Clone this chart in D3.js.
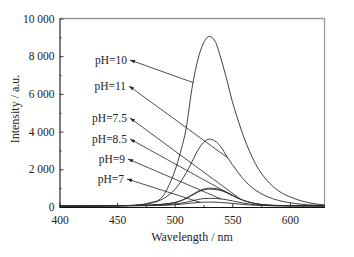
<!DOCTYPE html>
<html><head><meta charset="utf-8">
<script src="https://cdn.jsdelivr.net/npm/d3@7"></script>
<style>body{margin:0;background:#fff}svg{display:block}svg text{font-family:"Liberation Serif","Times New Roman",Times,"DejaVu Serif",serif !important;fill:#222}</style>
</head><body>
<script>
const wavelengths = d3.range(400, 631, 5);
const pH10 = [40,42,44,46,48,50,52,55,58,62,66,72,80,95,120,170,250,330,600,1150,1900,2900,4200,6300,7800,8700,9050,8800,7900,6800,5600,4600,3700,2950,2300,1800,1420,1100,860,680,540,420,320,245,185,140,110];
const pH11 = [38,40,42,44,46,48,50,52,55,58,62,68,76,90,115,150,210,300,440,640,920,1320,1820,2400,3000,3420,3600,3500,3200,2700,2250,1830,1450,1150,900,710,560,440,350,280,225,180,145,120,100,88,78];
const pH75 = [55,56,57,58,60,62,64,66,68,70,72,75,78,82,88,96,108,125,150,185,240,330,470,650,820,950,1000,980,910,790,630,470,345,255,185,140,110,92,82,76,72,70,68,66,65,64,63];
const pH85 = [52,53,54,55,57,59,61,63,65,67,69,72,75,79,85,93,105,122,147,182,235,320,450,620,785,905,950,935,870,760,610,460,340,250,180,135,105,88,78,72,68,66,64,63,62,61,60];
const pH9 = [48,49,50,51,52,54,56,58,60,62,64,66,68,71,75,80,87,96,110,130,160,200,255,325,395,445,460,455,430,385,325,260,205,160,125,100,85,75,68,64,61,59,58,57,56,55,55];
const pH7 = [45,46,47,48,49,50,52,54,56,58,60,62,64,66,69,72,76,82,90,102,120,145,175,210,240,256,260,255,240,218,190,160,132,110,92,80,72,66,62,59,57,56,55,54,53,52,52];

const seriesNames = ["pH=10","pH=11","pH=7.5","pH=8.5","pH=9","pH=7"];
const seriesValues = [pH10, pH11, pH75, pH85, pH9, pH7];
const arrowTargets = [516, 546, 557, 550, 540, 522];

const xTicks = [400, 450, 500, 550, 600];
const yTicks = [0, 2000, 4000, 6000, 8000, 10000];

const FONT = '"Liberation Serif","Times New Roman",Times,"DejaVu Serif",serif';
const W = 354, H = 257;
const svg = d3.select("body").append("svg").attr("width", W).attr("height", H);
const x = d3.scaleLinear().domain([400, 630]).range([59.5, 324.5]);
const y = d3.scaleLinear().domain([0, 10000]).range([207, 18.5]);

svg.append("path").attr("d", `M${x(400)},${y(10000)}H${x(630)}V${y(0)}`)
  .attr("fill","none").attr("stroke","#9a9a9a").attr("stroke-width",1.3);

const line = d3.line().x((d,i)=>x(wavelengths[i])).y(d=>y(d)).curve(d3.curveMonotoneX);
svg.append("g").selectAll("path").data(seriesValues).join("path")
  .attr("d", line).attr("fill","none").attr("stroke","#2a2a2a").attr("stroke-width",0.9);

const fmt = v => d3.format(",")(v).replace(/,/g, " ");
const gy = svg.append("g").attr("transform", `translate(${x(400)},0)`)
  .call(d3.axisLeft(y).tickValues(yTicks).tickFormat(fmt).tickSizeInner(-4).tickSizeOuter(0).tickPadding(5));
const gyMinor = svg.append("g").attr("transform", `translate(${x(400)},0)`)
  .call(d3.axisLeft(y).tickValues(d3.range(1000, 10000, 2000)).tickFormat("").tickSizeInner(-2).tickSizeOuter(0));
const gx = svg.append("g").attr("transform", `translate(0,${y(0)})`)
  .call(d3.axisBottom(x).tickValues(xTicks).tickFormat(d3.format("d")).tickSizeInner(-4).tickSizeOuter(0).tickPadding(9));
const gxMinor = svg.append("g").attr("transform", `translate(0,${y(0)})`)
  .call(d3.axisBottom(x).tickValues(d3.range(425, 630, 50)).tickFormat("").tickSizeInner(-2).tickSizeOuter(0));
[gy, gyMinor, gx, gxMinor].forEach(g => {
  g.attr("font-family", FONT).attr("font-size", 11.5);
  g.selectAll("path.domain").attr("stroke","#111").attr("stroke-width",1.1);
  g.selectAll("line").attr("stroke","#333");
  g.selectAll("text").attr("fill","#222");
});
gyMinor.select("path.domain").remove();
gxMinor.select("path.domain").remove();

svg.append("text").attr("transform","translate(19,109) rotate(-90)").attr("text-anchor","middle")
  .attr("font-size",12).text("Intensity / a.u.");
svg.append("text").attr("x",192).attr("y",241).attr("text-anchor","middle")
  .attr("font-size",12).text("Wavelength / nm");

const defs = svg.append("defs");
defs.append("marker").attr("id","ah").attr("viewBox","0 0 10 10").attr("refX",10).attr("refY",5)
  .attr("markerWidth",6).attr("markerHeight",5).attr("orient","auto-start-reverse").attr("markerUnits","userSpaceOnUse")
  .append("path").attr("d","M0,1.5L10,5L0,8.5Z").attr("fill","#222");
const labelPos = [[130,60],[129,86],[130,118],[130,139],[128,159],[127,179]];
const interp = (vals, wl) => {
  const i = Math.floor((wl - 400) / 5), t = (wl - wavelengths[i]) / 5;
  return vals[i] * (1 - t) + vals[i + 1] * t;
};
seriesNames.forEach((name, k) => {
  const [lx, ly] = labelPos[k];
  const tx = x(arrowTargets[k]), ty = y(interp(seriesValues[k], arrowTargets[k]));
  svg.append("line").attr("x1", lx).attr("y1", ly).attr("x2", tx).attr("y2", ty)
    .attr("stroke","#222").attr("stroke-width",0.8).attr("marker-start","url(#ah)");
  svg.append("text").attr("x", lx - 3).attr("y", ly + 4).attr("text-anchor","end")
    .attr("font-size",11.5).text(name);
});
</script>
</body></html>
